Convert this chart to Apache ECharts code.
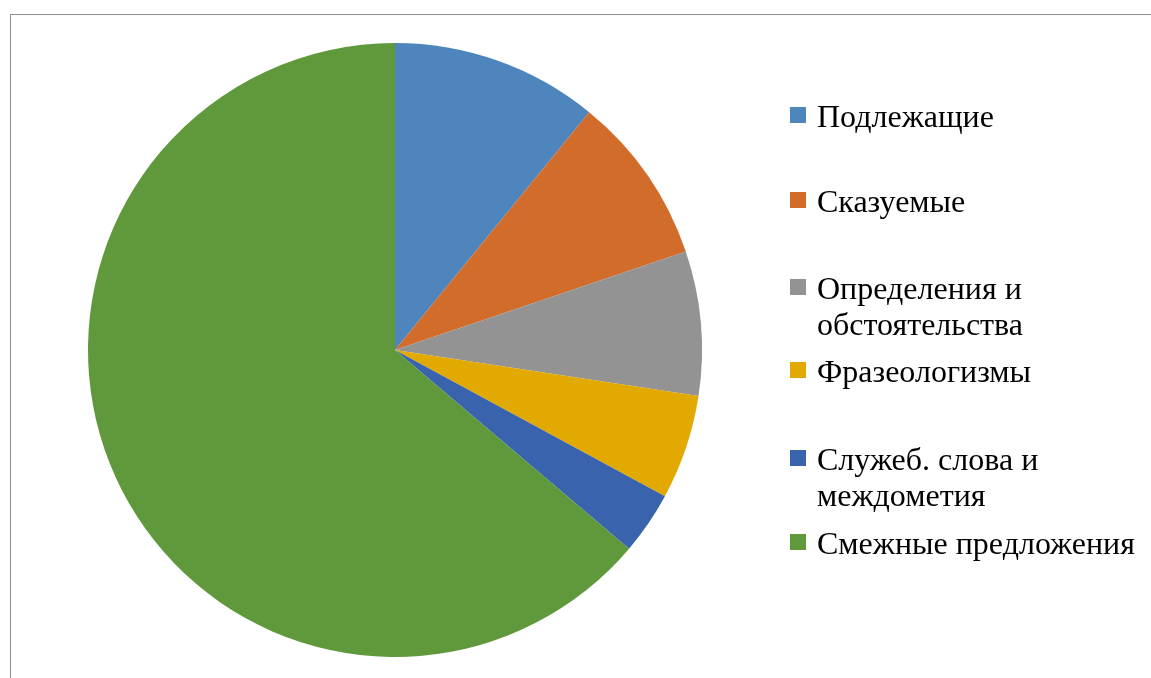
<!DOCTYPE html>
<html>
<head>
<meta charset="utf-8">
<script src="https://cdn.jsdelivr.net/npm/echarts@6/dist/echarts.min.js"></script>
<style>
html,body{margin:0;padding:0;background:#fff;}
#frame{position:absolute;left:10px;top:14px;width:1200px;height:700px;border:1px solid #8f8f8f;box-sizing:border-box;}
#chart{position:absolute;left:0;top:0;width:1151px;height:678px;}
</style>
</head>
<body>
<div id="frame"></div>
<div id="chart"></div>
<script>
const categories = ['Подлежащие', 'Сказуемые', 'Определения и\nобстоятельства', 'Фразеологизмы', 'Служеб. слова и\nмеждометия', 'Смежные предложения'];
const values = [10.9, 8.9, 7.6, 5.5, 3.3, 63.8];
const colors = ['#4E85BC', '#D26C2B', '#939393', '#E2AA00', '#3A63AD', '#5F993B'];
const legendTops = [95, 180, 233, 350, 404, 522];

const chart = echarts.init(document.getElementById('chart'), null, {renderer: 'canvas'});
const data = categories.map((c, i) => ({name: c, value: values[i], itemStyle: {color: colors[i]}}));
const legends = categories.map((c, i) => ({
  data: [c],
  orient: 'vertical',
  left: 790,
  top: legendTops[i],
  padding: 0,
  icon: 'rect',
  itemWidth: 16,
  itemHeight: 16,
  selectedMode: false,
  formatter: function (name) {
    const lines = name.split('\n').map(l => '{t|' + l + '}');
    return (lines.length > 1 ? '\n' : '') + lines.join('\n');
  },
  textStyle: {
    fontFamily: 'Liberation Serif', fontSize: 32, color: '#000', lineHeight: 36, padding: [0, 0, 0, 6],
    rich: {t: {fontFamily: 'Liberation Serif', fontSize: 32, color: '#000', lineHeight: 36, padding: [8, 0, 0, 0]}}
  }
}));

chart.setOption({
  animation: false,
  backgroundColor: 'transparent',
  legend: legends,
  series: [{
    type: 'pie',
    center: [395, 350],
    radius: [0, 307],
    startAngle: 90,
    clockwise: true,
    label: {show: false},
    labelLine: {show: false},
    itemStyle: {borderWidth: 0},
    emphasis: {disabled: true},
    data: data
  }]
});
</script>
</body>
</html>
